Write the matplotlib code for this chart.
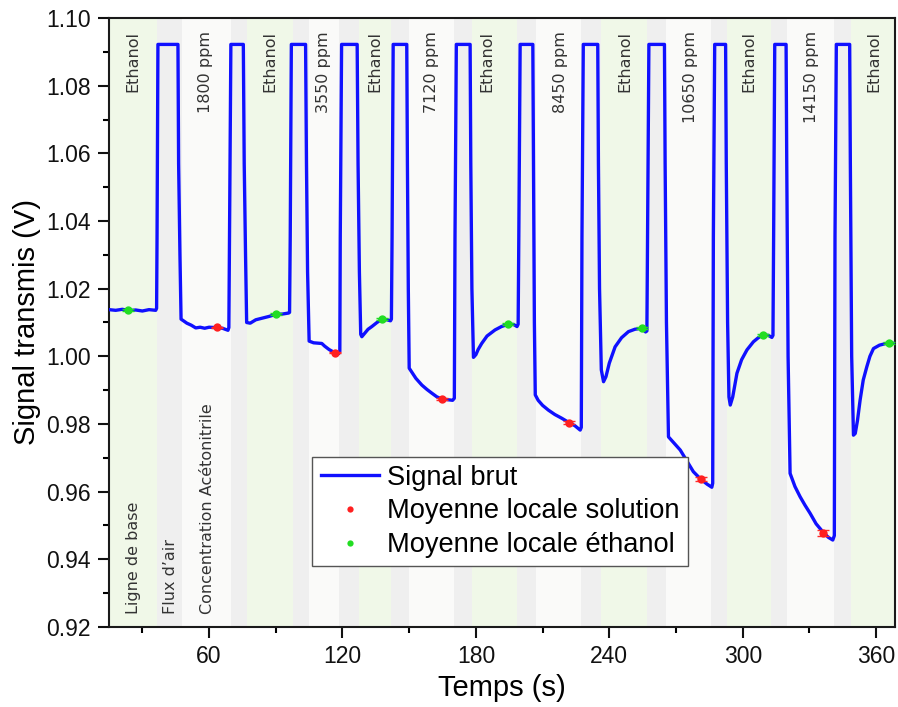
import matplotlib
matplotlib.use("Agg")
import matplotlib.pyplot as plt
from matplotlib.ticker import MultipleLocator

# ---------------- data ----------------
signal_t = [15, 18, 21, 24, 27, 30, 33, 36.0, 36.4,
            36.6, 37.0, 46.0, 46.3, 46.9, 47.4,
            48.5, 50, 52, 54, 56, 58, 60, 63, 66, 68.5, 68.9,
            69.2, 69.8, 75.4, 75.8, 76.4, 76.9,
            78.5, 81, 84, 87, 90, 93, 95.8, 96.2,
            96.5, 97.0, 103.4, 103.8, 104.3, 105.0,
            107, 110.7, 112, 114, 116.7, 118.3, 118.8,
            119.0, 119.6, 126.6, 127.0, 127.6, 128.2, 128.7,
            130, 131.5, 133.2, 135.5, 137.7, 140, 141.6, 142.0,
            142.3, 142.8, 148.9, 149.2, 149.6, 150.0,
            151, 153, 155.7, 158, 160.2, 162.5, 164.7, 167, 169.5, 170.3,
            170.6, 171.2, 177.4, 177.7, 178.2, 178.9,
            180, 181, 182.6, 185, 188.6, 191.5, 194.6, 197, 198.5, 199.0,
            199.3, 199.9, 205.6, 205.9, 206.3, 206.7,
            208, 210, 212.6, 215.5, 218.6, 221.9, 224.5, 226.9, 227.4,
            227.7, 228.3, 234.8, 235.1, 235.6, 236.4, 237.4,
            238.5, 240, 242.6, 245.5, 248.6, 251.5, 254.6, 256.3, 256.9,
            257.2, 257.8, 264.8, 265.1, 265.7, 266.6,
            268.5, 271.9, 274.5, 277.8, 281.1, 284, 286.1, 286.5,
            286.8, 287.4, 292.3, 292.6, 293.2, 293.8, 294.4,
            295.5, 297.4, 299.5, 301.9, 304.8, 307, 309, 311.5, 313.1, 313.6,
            313.9, 314.4, 319.5, 319.8, 320.4, 321.3,
            323.5, 325.8, 328, 330.3, 333, 336.3, 338.5, 340.5, 341.2,
            341.5, 342.1, 348.1, 348.4, 349.0, 349.8,
            350.6, 351.6, 352.8, 354.2, 355.8, 357.2, 358.8, 361.5, 365.6, 368.5]
signal_v = [1.0138, 1.0136, 1.0139, 1.0135, 1.0137, 1.0134, 1.0138, 1.0136, 1.0142,
            1.0354, 1.0922, 1.0922, 1.0570, 1.0300, 1.0110,
            1.0105, 1.0098, 1.0092, 1.0084, 1.0086, 1.0083, 1.0086, 1.0085, 1.0083, 1.0077, 1.0085,
            1.0354, 1.0922, 1.0922, 1.0570, 1.0300, 1.0100,
            1.0098, 1.0108, 1.0113, 1.0118, 1.0124, 1.0125, 1.0128, 1.0130,
            1.0354, 1.0922, 1.0922, 1.0570, 1.0250, 1.0045,
            1.0040, 1.0038, 1.0030, 1.0020, 1.0010, 1.0008, 1.0015,
            1.0354, 1.0922, 1.0922, 1.0570, 1.0250, 1.0065, 1.0058,
            1.0068, 1.0080, 1.0088, 1.0100, 1.0110, 1.0108, 1.0105, 1.0110,
            1.0354, 1.0922, 1.0922, 1.0570, 1.0200, 0.9965,
            0.9955, 0.9935, 0.9915, 0.9902, 0.9891, 0.9880, 0.9874, 0.9872, 0.9870, 0.9876,
            1.0354, 1.0922, 1.0922, 1.0570, 1.0200, 0.9997,
            1.0005, 1.0020, 1.0038, 1.0060, 1.0078, 1.0088, 1.0095, 1.0094, 1.0088, 1.0095,
            1.0354, 1.0922, 1.0922, 1.0570, 1.0100, 0.9886,
            0.9870, 0.9855, 0.9841, 0.9828, 0.9817, 0.9804, 0.9795, 0.9782, 0.9790,
            1.0354, 1.0922, 1.0922, 1.0570, 1.0200, 0.9960, 0.9925,
            0.9940, 0.9980, 1.0028, 1.0055, 1.0073, 1.0080, 1.0083, 1.0072, 1.0075,
            1.0354, 1.0922, 1.0922, 1.0570, 1.0100, 0.9762,
            0.9748, 0.9723, 0.9695, 0.9659, 0.9637, 0.9622, 0.9613, 0.9625,
            1.0354, 1.0922, 1.0922, 1.0570, 1.0100, 0.9880, 0.9856,
            0.9880, 0.9950, 0.9990, 1.0019, 1.0043, 1.0055, 1.0063, 1.0062, 1.0056, 1.0062,
            1.0354, 1.0922, 1.0922, 1.0570, 1.0000, 0.9654,
            0.9615, 0.9585, 0.9560, 0.9536, 0.9505, 0.9479, 0.9465, 0.9457, 0.9470,
            1.0354, 1.0922, 1.0922, 1.0570, 1.0000, 0.9767,
            0.9772, 0.9810, 0.9871, 0.9930, 0.9969, 1.0000, 1.0023, 1.0033, 1.0040, 1.0038]

sol_t = [63.4, 116.7, 164.7, 221.9, 281.1, 336.3]
sol_v = [1.0086, 1.0011, 0.9874, 0.9804, 0.9637, 0.9479]
sol_err = [0.0002, 0.0002, 0.0003, 0.0005, 0.0007, 0.0009]

eth_t = [23.4, 90.0, 137.7, 194.6, 254.6, 309.0, 365.6]
eth_v = [1.0137, 1.0125, 1.0110, 1.0095, 1.0083, 1.0063, 1.0040]
eth_err = [0.0002, 0.0002, 0.0002, 0.0003, 0.0003, 0.0003, 0.0003]

band_edges = [15, 36.7, 47.7, 69.9, 76.9, 97.6, 105.1, 118.6, 127.4, 141.9, 149.9,
              170.2, 178.4, 198.7, 207.1, 227.3, 236.2, 257.1, 265.6, 285.7, 293.1,
              312.8, 319.8, 341.1, 348.6, 368.5]
band_kinds = ['eth', 'air', 'sol', 'air'] * 6 + ['eth']

top_label_t = [25.9, 58.5, 87.4, 111.5, 134.7, 160.1, 184.9, 217.9, 247.1,
               276.4, 302.6, 331.1, 358.8]
top_labels = ["Ethanol", "1800 ppm", "Ethanol", "3550 ppm", "Ethanol", "7120 ppm",
              "Ethanol", "8450 ppm", "Ethanol", "10650 ppm", "Ethanol", "14150 ppm",
              "Ethanol"]
bottom_label_t = [25.9, 42.8, 59.2]
bottom_labels = ["Ligne de base", "Flux d\u2019air", "Concentration Acétonitrile"]

# ---------------- styling ----------------
band_colors = {'eth': '#F0F8E8', 'air': '#EFEFEF', 'sol': '#FAFAF9'}
AX_FONT = ['Liberation Sans', 'DejaVu Sans']

fig = plt.figure(figsize=(8.98, 7.07), dpi=100)
ax = fig.add_axes([0.1214, 0.1132, 0.9967 - 0.1214, 0.9745 - 0.1132])

for i, kind in enumerate(band_kinds):
    ax.axvspan(band_edges[i], band_edges[i + 1], color=band_colors[kind], lw=0, zorder=0)

ax.plot(signal_t, signal_v, color='#1010FF', lw=2.4, zorder=3, label='Signal brut',
        solid_joinstyle='round')

ax.errorbar(sol_t, sol_v, yerr=sol_err, fmt='none', ecolor='#FF2A2A', elinewidth=1,
            capsize=4, capthick=1, zorder=4)
ax.errorbar(eth_t, eth_v, yerr=eth_err, fmt='none', ecolor='#22DD22', elinewidth=1,
            capsize=4, capthick=1, zorder=4)
ax.plot(sol_t, sol_v, 'o', color='#FF2020', ms=6, mec='none', zorder=5,
        label='Moyenne locale solution')
ax.plot(eth_t, eth_v, 'o', color='#22DD22', ms=6, mec='none', zorder=5,
        label='Moyenne locale éthanol')

for t, s in zip(top_label_t, top_labels):
    ax.text(t, 1.0962, s, rotation=90, ha='center', va='top', fontsize=11.5,
            family='DejaVu Sans', color='#333333', zorder=2)
for t, s in zip(bottom_label_t, bottom_labels):
    ax.text(t, 0.9238, s, rotation=90, ha='center', va='bottom', fontsize=11.5,
            family='DejaVu Sans', color='#333333', zorder=2)

ax.set_xlim(15, 368.5)
ax.set_ylim(0.92, 1.10)
ax.xaxis.set_major_locator(MultipleLocator(60))
ax.xaxis.set_minor_locator(MultipleLocator(30))
ax.yaxis.set_major_locator(MultipleLocator(0.02))
ax.yaxis.set_minor_locator(MultipleLocator(0.01))
ax.yaxis.set_major_formatter(matplotlib.ticker.FormatStrFormatter('%.2f'))

ax.tick_params(which='major', direction='out', length=8, width=1.5, pad=5,
               top=False, right=False, labelsize=16.5, colors='#111111')
ax.tick_params(which='minor', direction='out', length=4.5, width=1.5,
               top=False, right=False)
for lab in ax.get_xticklabels() + ax.get_yticklabels():
    lab.set_family(AX_FONT)

for sp in ax.spines.values():
    sp.set_linewidth(1.5)
    sp.set_color('#1a1a1a')

ax.set_xlabel('Temps (s)', fontsize=21, family=AX_FONT, labelpad=4)
ax.set_ylabel('Signal transmis (V)', fontsize=21, family=AX_FONT, labelpad=4)

leg = ax.legend(loc='upper left', bbox_to_anchor=(0.2587, 0.2796), borderaxespad=0,
                prop={'family': AX_FONT, 'size': 19.6}, frameon=True, fancybox=False,
                framealpha=1, edgecolor='#555555', handlelength=2.15,
                handletextpad=0.3, labelspacing=0.28, borderpad=0.3, markerscale=0.75)
leg.get_frame().set_linewidth(1.0)
leg.set_zorder(10)

fig.savefig('out.png', dpi=100)
